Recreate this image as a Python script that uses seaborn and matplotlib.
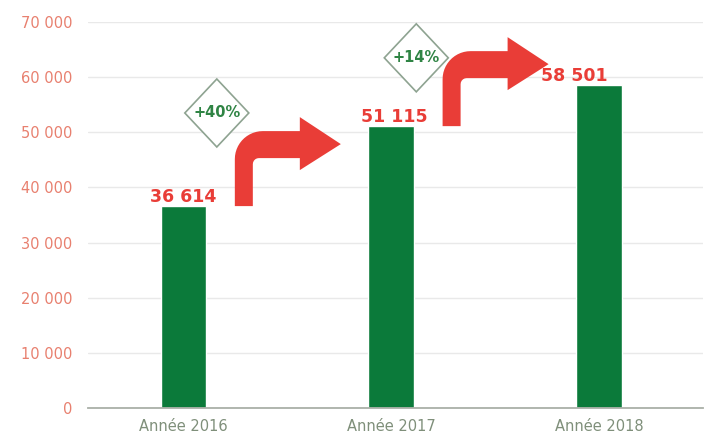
import numpy as np
import matplotlib
matplotlib.use("Agg")
import matplotlib.pyplot as plt
import matplotlib.transforms as mtransforms
from matplotlib.patches import Polygon
import seaborn as sns

# Data
years = ["Année 2016", "Année 2017", "Année 2018"]
values = [36614, 51115, 58501]
ticks = list(range(0, 70001, 10000))

GREEN = "#0b7a3a"
RED = "#e93d37"
PINK = "#e8806f"

sns.set_style("white")
plt.rcParams["font.family"] = ["DejaVu Sans"]

fig = plt.figure(figsize=(7.13, 4.42), dpi=100)
ax = fig.add_axes([88 / 713, 34 / 442, 615 / 713, 386 / 442])

sns.barplot(x=years, y=values, color=GREEN, saturation=1, width=0.22, ax=ax)

ax.set_xlim(-0.46, 2.5)
ax.set_ylim(0, 70000)
ax.set_yticks(ticks)
ax.set_yticklabels([f"{t:,}".replace(",", " ") for t in ticks], color=PINK, fontsize=10.5)
ax.set_xlabel("")
ax.set_ylabel("")
ax.yaxis.grid(True, color="#e9e9e9", lw=1)
ax.set_axisbelow(True)
for s in ["left", "top", "right"]:
    ax.spines[s].set_visible(False)
ax.spines["bottom"].set_color("#aab0a8")
ax.spines["bottom"].set_linewidth(1.3)
ax.tick_params(axis="y", length=0, pad=11)
ax.tick_params(axis="x", length=0, pad=8, labelsize=10.5, labelcolor="#7f8f7a")

# value labels above bars (last one nudged left like the original)
label_dx = [0, 2, -18]
for i, v in enumerate(values):
    ax.annotate(f"{v:,}".replace(",", " "), (i, v), xytext=(label_dx[i], 3),
                textcoords="offset points", ha="center", va="baseline",
                color=RED, fontsize=12.5, fontweight="bold")

# bent arrows (shape in pixels, anchored on data points)
R, r = 28, 6
arc_out = np.linspace(np.pi / 2, np.pi, 14)
arc_in = np.linspace(np.pi, np.pi / 2, 6)
arrow_shape = [(-9, 0), (9, 0), (9, 48 - r)]
arrow_shape += [(9 + r + r * np.cos(a), 48 - r + r * np.sin(a)) for a in arc_in]
arrow_shape += [(56, 48), (56, 36), (97, 62), (56, 89), (56, 75), (-9 + R, 75)]
arrow_shape += [(-9 + R + R * np.cos(a), 75 - R + R * np.sin(a)) for a in arc_out]
arrow_shape = np.array(arrow_shape)

diamond = np.array([(0, 34), (32, 0), (0, -34), (-32, 0)])
badge_pos = [(0.16, 53500), (1.12, 63500)]

for i in range(len(values) - 1):
    ax_pt = ax.transData.transform((i + 0.29, values[i]))
    ax.add_patch(Polygon(arrow_shape + ax_pt, closed=True, facecolor=RED,
                         edgecolor="none", transform=mtransforms.IdentityTransform(),
                         clip_on=False, zorder=5))
    pct = round((values[i + 1] / values[i] - 1) * 100)
    c = ax.transData.transform(badge_pos[i])
    ax.add_patch(Polygon(diamond + c, closed=True, facecolor="white",
                         edgecolor="#8ea391", lw=1.2,
                         transform=mtransforms.IdentityTransform(),
                         clip_on=False, zorder=5))
    ax.text(*badge_pos[i], f"+{pct}%", ha="center", va="center",
            color="#2f8444", fontsize=10.5, fontweight="bold", zorder=6)

fig.savefig("out.png")
